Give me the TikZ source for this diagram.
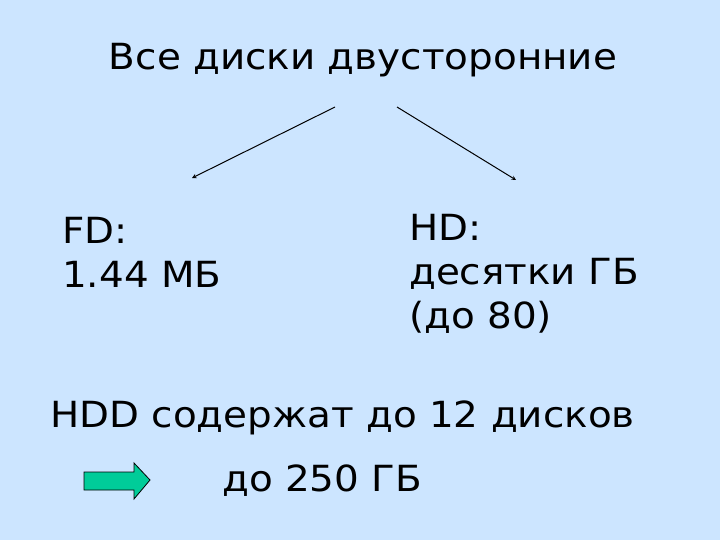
\documentclass[tikz,border=0pt]{standalone}
\usepackage{fontspec}
\setmainfont{DejaVu Sans}[FakeStretch=1.08]
\begin{document}
\begin{tikzpicture}[x=1pt,y=-1pt,
  txt/.style={font=\fontsize{36}{44}\selectfont, inner sep=0pt, anchor=west, align=left},
  conn/.style={-stealth, line width=1pt}]
\fill[fill={rgb,255:red,204;green,229;blue,255}] (0,0) rectangle (720,540);
\useasboundingbox (0,0) rectangle (720,540);
\node[txt, anchor=center] (t) at (363,60) {Все диски двусторонние};
\coordinate (l1) at (335,107); \coordinate (l2) at (192,178);
\coordinate (r1) at (397,107); \coordinate (r2) at (516,180);
\draw[conn] (l1) -- (l2);
\draw[conn] (r1) -- (r2);
\node[txt] (fd) at (62,252) {FD:\\1.44 МБ};
\node[txt] (hd) at (409,274) {HD:\\десятки ГБ\\(до 80)};
\node[txt] (hdd) at (50,418) {HDD содержат до 12 дисков};
\node[txt] (g) at (222,481) {до 250 ГБ};
\draw[fill={rgb,255:red,0;green,204;blue,153}, line width=0.8pt]
  (84,472) -- (134,472) -- (134,463) -- (150,480) -- (134,499) -- (134,490) -- (84,490) -- cycle;
\end{tikzpicture}
\end{document}
